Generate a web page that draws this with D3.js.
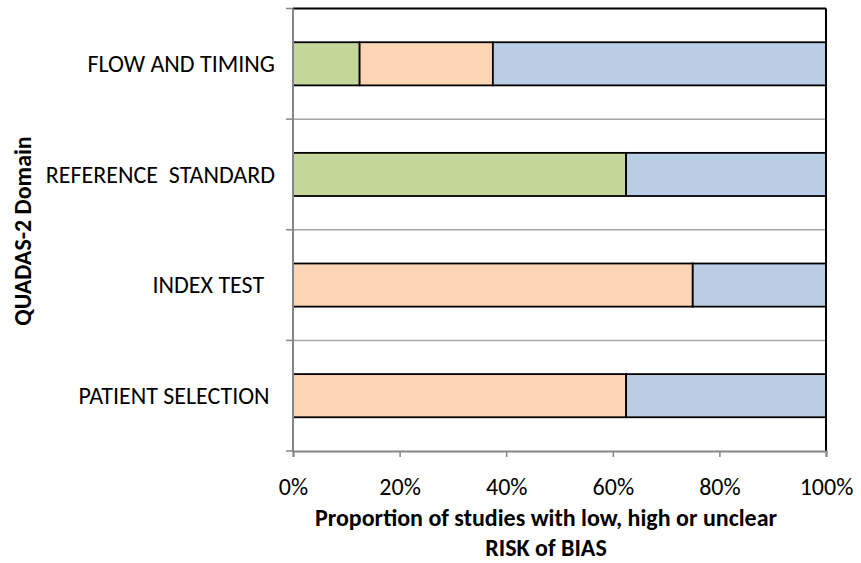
<!DOCTYPE html>
<html>
<head>
<meta charset="utf-8">
<script src="https://cdn.jsdelivr.net/npm/d3@7/dist/d3.min.js"></script>
<style>
  html, body { margin: 0; padding: 0; background: #fff; }
  svg { display: block; }
  text { font-family: Carlito, Calibri, Lato, "Open Sans", sans-serif; fill: #000; }
</style>
</head>
<body>
<svg id="chart" width="861" height="563"></svg>
<script>
// ---- data ----
const categories = ["PATIENT SELECTION ", "INDEX TEST  ", "REFERENCE  STANDARD", "FLOW AND TIMING"];
const lowRisk     = [0,     0,    0.625, 0.125];
const highRisk    = [0.625, 0.75, 0,     0.25];
const unclearRisk = [0.375, 0.25, 0.375, 0.625];
const seriesNames = ["Low", "High", "Unclear"];
const xTickValues = [0, 0.2, 0.4, 0.6, 0.8, 1.0];
const yAxisTitle = "QUADAS-2 Domain";
const xAxisTitleLines = ["Proportion of studies with low, high or unclear", "RISK of BIAS"];

const colors = { Low: "#C4D79B", High: "#FCD5B5", Unclear: "#B9CDE5" };

const rows = categories.map((c, i) => ({ cat: c, Low: lowRisk[i], High: highRisk[i], Unclear: unclearRisk[i] }));
const stacked = d3.stack().keys(seriesNames)(rows);

const svg = d3.select("#chart");
const margin = { left: 293, right: 35, top: 8.5, bottom: 112 };
const W = 861, H = 563;
const iw = W - margin.left - margin.right;
const ih = H - margin.top - margin.bottom;

const g = svg.append("g").attr("transform", `translate(${margin.left},${margin.top})`);

const x = d3.scaleLinear().domain([0, 1]).range([0, iw]);
const y = d3.scaleBand().domain(categories.slice().reverse()).range([0, ih]).paddingInner(0.61).paddingOuter(0.305);

// gridlines at category boundaries
const boundaries = d3.range(categories.length + 1).map(i => i * y.step());
g.append("g").selectAll("line").data(boundaries.slice(1, -1)).join("line")
  .attr("x1", 0).attr("x2", iw).attr("y1", d => d).attr("y2", d => d)
  .attr("stroke", "#A6A6A6").attr("stroke-width", 1.5);

// bars
g.append("g").selectAll("g").data(stacked).join("g")
  .attr("fill", d => colors[d.key])
  .selectAll("rect").data(d => d.filter(s => s[1] - s[0] > 0)).join("rect")
  .attr("x", d => x(d[0])).attr("width", d => x(d[1]) - x(d[0]))
  .attr("y", d => y(d.data.cat)).attr("height", y.bandwidth())
  .attr("stroke", "#000").attr("stroke-width", 1.8);

// plot border top and right
g.append("line").attr("x1", 0).attr("x2", iw).attr("y1", 0).attr("y2", 0).attr("stroke", "#000").attr("stroke-width", 2);
g.append("line").attr("x1", iw).attr("x2", iw).attr("y1", 0).attr("y2", ih).attr("stroke", "#000").attr("stroke-width", 2);

// y axis: ticks at boundaries
const yAxisG = g.append("g");
yAxisG.append("line").attr("x1", 0).attr("x2", 0).attr("y1", 0).attr("y2", ih).attr("stroke", "#868686").attr("stroke-width", 2);
yAxisG.selectAll("line.tk").data(boundaries).join("line").attr("class", "tk")
  .attr("x1", -7).attr("x2", 0).attr("y1", d => d).attr("y2", d => d)
  .attr("stroke", "#868686").attr("stroke-width", 1.5);
yAxisG.selectAll("text").data(categories).join("text")
  .attr("x", -18).attr("y", d => y(d) + y.bandwidth() / 2)
  .attr("dy", "0.35em").attr("text-anchor", "end")
  .style("white-space", "pre").attr("xml:space", "preserve")
  .style("font-size", "24px")
  .text(d => d);

// x axis
const xAxisG = g.append("g").attr("transform", `translate(0,${ih})`)
  .call(d3.axisBottom(x).tickValues(xTickValues).tickFormat(d3.format(".0%")).tickSize(6).tickPadding(21));
xAxisG.select(".domain").attr("stroke", "#868686").attr("stroke-width", 2);
xAxisG.selectAll(".tick line").attr("stroke", "#868686").attr("stroke-width", 1.5);
xAxisG.selectAll(".tick text").style("font-size", "24px").style("font-family", "Carlito, Calibri, Lato, sans-serif").attr("fill", "#000");

// axis titles
svg.append("text").attr("transform", `translate(31,231) rotate(-90)`)
  .attr("text-anchor", "middle").style("font-size", "24px").style("font-weight", "bold")
  .text(yAxisTitle);
const xt = svg.append("text").attr("text-anchor", "middle").style("font-size", "24px").style("font-weight", "bold");
xAxisTitleLines.forEach((t, i) => {
  xt.append("tspan").attr("x", 546).attr("y", 526 + i * 30).text(t);
});
</script>
</body>
</html>
